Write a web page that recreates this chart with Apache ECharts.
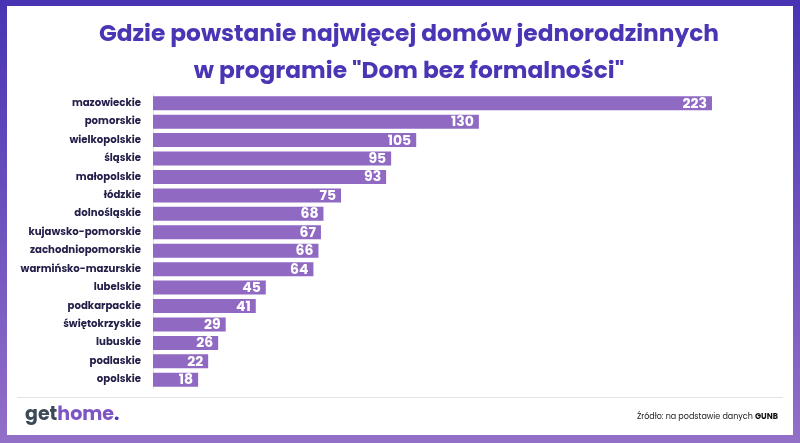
<!DOCTYPE html>
<html><head><meta charset="utf-8">
<script src="https://cdn.jsdelivr.net/npm/echarts@6/dist/echarts.min.js"></script>
<style>html,body{margin:0;padding:0;background:#fff}#c{width:800px;height:443px}</style>
</head><body><div id="c"></div>
<script>
const categories = ["mazowieckie","pomorskie","wielkopolskie","śląskie","małopolskie","łódzkie","dolnośląskie","kujawsko-pomorskie","zachodniopomorskie","warmińsko-mazurskie","lubelskie","podkarpackie","świętokrzyskie","lubuskie","podlaskie","opolskie"];
const values = [223,130,105,95,93,75,68,67,66,64,45,41,29,26,22,18];
const titleLines = ["Gdzie powstanie najwięcej domów jednorodzinnych","w programie \"Dom bez formalności\""];
const sourceText = "Źródło: na podstawie danych ";
const sourceBold = "GUNB";

const chart = echarts.init(document.getElementById('c'), null, {renderer:'canvas'});
const font = "Poppins, Inter, 'Open Sans', sans-serif";
chart.setOption({
  animation:false,
  graphic:[
    {type:'rect', z:-10, shape:{x:0,y:0,width:800,height:443},
     style:{fill:new echarts.graphic.LinearGradient(0,0,0,1,[{offset:0,color:'#4834b3'},{offset:1,color:'#9370c8'}])}},
    {type:'rect', z:-9, shape:{x:7,y:6,width:786,height:429}, style:{fill:'#ffffff'}},
    {type:'line', z:-8, shape:{x1:17,y1:397.5,x2:783,y2:397.5}, style:{stroke:'#e4e4e8',lineWidth:1}},
    {type:'text', x:409, y:35, style:{text:titleLines[0], fill:'#4a35b5',fontSize:23.3,fontWeight:'bold',fontFamily:font,align:'center',verticalAlign:'middle'}},
    {type:'text', x:409, y:72, style:{text:titleLines[1], fill:'#4a35b5',fontSize:23.3,fontWeight:'bold',fontFamily:font,align:'center',verticalAlign:'middle'}},
    {type:'text', left:25, top:406, style:{rich:{
        a:{fill:'#3b4a56',fontSize:19,fontWeight:'bold',fontFamily:font},
        b:{fill:'#7e55c4',fontSize:19,fontWeight:'bold',fontFamily:font},
        c:{fill:'#4a35b5',fontSize:19,fontWeight:'bold',fontFamily:font}},
        text:'{a|get}{b|home}{c|.}'}},
    {type:'text', right:22, top:413, style:{rich:{
        n:{fill:'#222',fontSize:8,fontFamily:font},
        m:{fill:'#111',fontSize:8,fontWeight:'bold',fontFamily:font}},
        text:'{n|'+sourceText+'}{m|'+sourceBold+'}'}}
  ],
  grid:{left:153,top:94,width:559,height:295,containLabel:false},
  xAxis:{type:'value',min:0,max:223,show:false},
  yAxis:{type:'category',data:categories,inverse:true,
    axisLine:{show:true,lineStyle:{color:'#e6e3ee',width:1}},
    axisTick:{show:false},
    axisLabel:{color:'#24204a',fontSize:10.2,fontWeight:'bold',fontFamily:font,margin:12}},
  series:[{type:'bar',data:values,barWidth:14,
    itemStyle:{color:'#8f69c2'},
    label:{show:true,position:'insideRight',color:'#fff',fontSize:14,fontWeight:'bold',fontFamily:font,offset:[0,1]}}]
});
</script></body></html>
